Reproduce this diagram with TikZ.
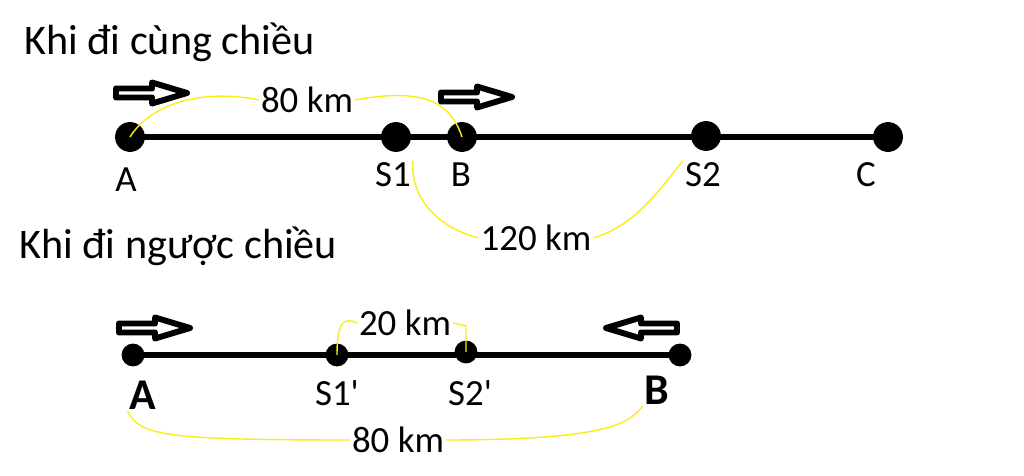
\documentclass[tikz,border=0pt]{standalone}
\usepackage{fontspec}
\setmainfont{Carlito}
\usepackage{tikz}
\usetikzlibrary{positioning}
\definecolor{hiyellow}{RGB}{250,238,20}

\tikzset{
  dot/.style={circle,fill=black,inner sep=0pt,minimum size=17},
  smalldot/.style={dot,minimum size=13},
  road/.style={line width=3.9pt},
  thinroad/.style={line width=3pt},
  lbl/.style={font=\fontsize{21}{24}\selectfont,inner sep=1pt},
  biglbl/.style={font=\fontsize{25}{28}\selectfont\bfseries,inner sep=1pt},
  title/.style={font=\fontsize{24}{28}\selectfont,anchor=west,inner sep=0pt},
  curve/.style={hiyellow,line width=0.8pt},
  fat arrow/.pic={
    \draw[line width=3.4pt,line join=round,fill=white]
      (0,-4.5) -- (36,-4.5) -- (36,-10.5) -- (71,0) -- (36,10.5) -- (36,4.5) -- (0,4.5) -- cycle;
  }
}

\begin{document}
\begin{tikzpicture}[x=0.02cm,y=-0.02cm]
    \useasboundingbox (0,0) rectangle (1024,476);
    % same direction
    \node[title] (t1) at (24,42) {Khi đi cùng chiều};
    \node[dot] (A) at (130,137) {};
    \node[dot] (S1) at (396,137) {};
    \node[dot] (B) at (462,137) {};
    \node[dot] (S2) at (706,136) {};
    \node[dot] (C) at (888,137) {};
    \draw[road] (A.center) -- (C.center);
    \node[lbl] (lA) at (126,180) {A};
    \node[lbl] (lS1) at (393,175) {S1};
    \node[lbl] (lB) at (461,175) {B};
    \node[lbl] (lS2) at (703,175) {S2};
    \node[lbl] (lC) at (866,175) {C};
    \pic at (116,93) {fat arrow};
    \pic at (441,97) {fat arrow};
    \node[lbl] (d1) at (307,100) {80 km};
    \draw[curve] (A.center) .. controls (150,105) and (200,88) .. (d1.west);
    \draw[curve] (d1.east) .. controls (420,88) and (450,100) .. (B.center);
    \node[lbl] (d2) at (536,238) {120 km};
    \draw[curve] (lS1.north east) .. controls (410,200) and (440,228) .. (d2.west);
    \draw[curve] (d2.east) .. controls (635,225) and (655,195) .. (lS2.north west);
    %%
    % opposite direction
    \node[title] (t2) at (19,246) {Khi đi ngược chiều};
    \node[smalldot] (A2) at (133,355) {};
    \node[smalldot] (S1p) at (337,355) {};
    \node[smalldot] (S2p) at (466,352) {};
    \node[smalldot] (B2) at (680,355) {};
    \draw[thinroad] (A2.center) -- (B2.center);
    \node[biglbl] (lA2) at (143,395) {A};
    \node[lbl] (lS1p) at (337,393) {S1\textquotesingle};
    \node[lbl] (lS2p) at (470,393) {S2\textquotesingle};
    \node[biglbl] (lB2) at (657,390) {B};
    \pic at (119,328) {fat arrow};
    \pic[xscale=-1] at (677,328) {fat arrow};
    \node[lbl] (d3) at (405,323) {20 km};
    \draw[curve] (S1p.center) .. controls (337,325) and (342,316) .. (d3.west);
    \draw[curve] (d3.east) -- (466,326) -- (S2p.center);
    \node[lbl] (d4) at (398,440) {80 km};
    \draw[curve] (lA2.south west) .. controls (140,435) and (160,440) .. (d4.west);
    \draw[curve] (d4.east) .. controls (620,440) and (630,420) .. (lB2.south west);
\end{tikzpicture}
\end{document}
